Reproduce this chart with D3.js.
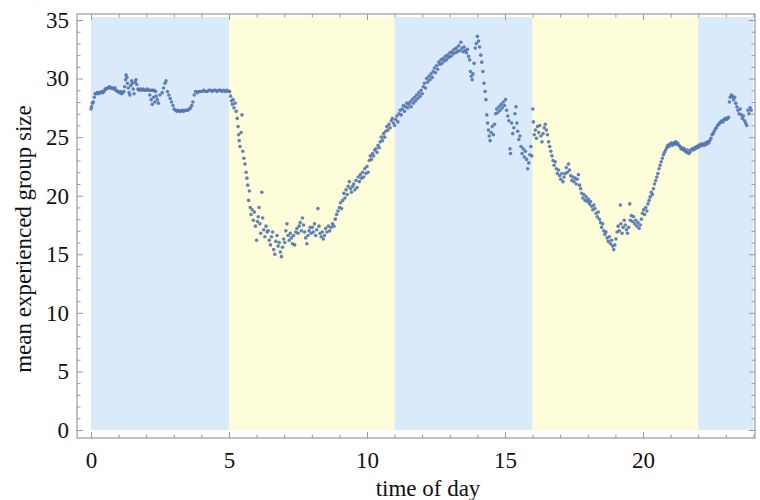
<!DOCTYPE html>
<html lang="en">
<head>
<meta charset="UTF-8">
<title>Mean experienced group size by time of day</title>
<script src="https://d3js.org/d3.v7.min.js"></script>
<style>
    body { margin: 0; background: #fff; }
</style>
</head>
<body>
<svg id="chart" width="760" height="500"></svg>
<script>
// shaded periods of the day (hours)
var shadeStart = [0, 5, 11, 16, 22];
var shadeEnd = [5, 11, 16, 22, 24];
var shadeKind = ["night", "day", "night", "day", "night"];

var xMajorTicks = [0, 5, 10, 15, 20];
var yMajorTicks = [0, 5, 10, 15, 20, 25, 30, 35];

// [hour, mean experienced group size]
var points0to5 = [
    [0.00,27.4],[0.02,27.6],[0.05,27.9],[0.08,28.0],[0.12,28.4],[0.15,28.7],[0.19,28.7],[0.23,28.8],[0.27,28.7],[0.31,28.8],
    [0.35,28.8],[0.39,28.9],[0.43,28.8],[0.47,28.9],[0.51,29.1],[0.55,29.1],[0.59,29.2],[0.63,29.2],[0.67,29.3],[0.71,29.2],
    [0.75,29.2],[0.79,29.2],[0.83,29.1],[0.87,29.2],[0.91,29.0],[0.95,28.9],[0.99,28.9],[1.03,28.8],[1.07,28.9],[1.11,28.7],
    [1.15,28.8],[1.19,28.9],[1.22,29.3],[1.25,29.9],[1.27,30.3],[1.30,30.1],[1.32,29.6],[1.35,29.2],[1.38,28.8],[1.41,28.6],
    [1.44,29.4],[1.47,29.8],[1.50,29.6],[1.53,29.1],[1.56,28.7],[1.60,29.7],[1.63,29.9],[1.66,29.5],[1.70,29.1],[1.74,29.0],
    [1.79,29.1],[1.84,29.0],[1.89,29.1],[1.94,29.0],[1.99,29.0],[2.04,29.1],[2.09,29.0],[2.14,29.0],[2.19,29.0],[2.24,29.0],
    [2.29,29.0],[2.34,28.9],[2.13,28.6],[2.18,28.2],[2.22,27.8],[2.27,28.4],[2.31,28.0],[2.36,28.5],[2.40,28.2],[2.44,27.9],
    [2.50,28.6],[2.58,28.8],[2.63,29.2],[2.68,29.6],[2.72,29.8],[2.77,28.9],[2.82,28.6],[2.87,28.3],[2.92,28.0],[2.97,27.7],
    [3.01,27.4],[3.06,27.3],[3.11,27.2],[3.16,27.3],[3.21,27.2],[3.26,27.2],[3.31,27.3],[3.36,27.2],[3.41,27.3],[3.46,27.3],
    [3.51,27.3],[3.56,27.4],[3.61,27.5],[3.65,27.7],[3.69,28.0],[3.74,28.6],[3.79,28.9],[3.85,28.8],[3.91,28.9],[3.97,28.9],
    [4.03,28.9],[4.09,29.0],[4.15,28.9],[4.21,28.9],[4.27,29.0],[4.33,29.0],[4.39,28.9],[4.45,29.0],[4.51,29.0],[4.57,28.9],
    [4.63,29.0],[4.69,29.0],[4.75,28.9],[4.81,29.0],[4.87,28.9],[4.93,29.0],[4.99,28.9]
];

var points5to11 = [
    [5.02,28.9],[5.06,28.5],[5.09,28.1],[5.12,27.8],[5.15,28.2],[5.18,27.5],[5.22,27.9],[5.26,27.2],[5.30,26.6],[5.33,25.9],
    [5.35,25.2],[5.37,24.7],[5.40,24.2],[5.44,25.4],[5.47,26.9],[5.50,23.8],[5.54,23.2],[5.58,22.7],[5.62,22.0],[5.65,21.5],
    [5.68,20.9],[5.71,19.6],[5.74,20.4],[5.77,19.0],[5.80,18.4],[5.84,18.8],[5.88,17.9],[5.92,18.6],[5.96,17.4],[6.00,16.2],
    [6.03,17.8],[6.06,18.2],[6.09,19.0],[6.12,17.6],[6.15,16.8],[6.19,20.3],[6.22,18.1],[6.26,17.1],[6.30,16.5],[6.34,17.4],
    [6.38,16.9],[6.42,17.0],[6.46,16.2],[6.50,15.8],[6.54,16.5],[6.58,16.9],[6.62,15.4],[6.66,15.0],[6.70,16.1],[6.74,16.6],
    [6.78,15.7],[6.82,16.0],[6.86,15.2],[6.90,14.8],[6.94,15.6],[6.98,16.3],[7.02,16.0],[7.06,17.0],[7.10,17.6],[7.14,16.6],
    [7.18,16.2],[7.22,16.8],[7.26,16.4],[7.30,15.9],[7.34,16.6],[7.38,15.8],[7.42,16.9],[7.46,17.2],[7.50,16.8],[7.54,17.4],
    [7.58,17.7],[7.62,17.0],[7.66,18.1],[7.70,17.5],[7.74,16.9],[7.78,16.4],[7.82,15.9],[7.86,16.6],[7.90,17.0],[7.94,17.3],
    [7.98,16.8],[8.02,17.3],[8.06,16.9],[8.10,17.6],[8.14,16.6],[8.18,17.1],[8.22,18.9],[8.26,17.4],[8.30,16.8],[8.34,16.5],
    [8.38,16.9],[8.42,16.3],[8.46,16.6],[8.50,17.2],[8.55,16.9],[8.60,17.4],[8.65,17.0],[8.70,17.3],[8.75,17.6],[8.80,17.4],
    [8.85,18.0],[8.90,18.4],[8.95,18.7],[9.00,19.0],[9.04,19.4],[9.08,18.9],[9.12,19.6],[9.16,20.2],[9.20,19.8],[9.24,20.5],
    [9.28,20.1],[9.32,20.8],[9.36,21.2],[9.40,20.6],[9.44,20.3],[9.48,20.8],[9.52,21.0],[9.56,20.5],[9.60,21.3],[9.64,20.7],
    [9.68,21.6],[9.72,21.2],[9.76,21.8],[9.80,21.5],[9.84,22.0],[9.88,21.6],[9.92,22.3],[9.96,21.9],[10.00,22.5],[10.04,22.0],
    [10.08,23.0],[10.12,23.4],[10.16,23.1],[10.20,23.6],[10.24,23.4],[10.28,23.9],[10.32,24.0],[10.36,23.7],[10.40,24.3],[10.44,24.1],
    [10.48,24.6],[10.52,25.0],[10.56,24.7],[10.60,25.3],[10.64,25.0],[10.68,25.5],[10.72,25.9],[10.76,25.6],[10.80,26.1],[10.84,25.8],
    [10.88,26.4],[10.92,26.6],[10.96,26.2]
];

var points11to16 = [
    [11.00,26.0],[11.04,26.5],[11.08,26.8],[11.12,26.3],[11.16,27.0],[11.20,27.3],[11.24,26.9],[11.28,27.4],[11.32,27.7],[11.36,27.2],
    [11.40,27.6],[11.44,27.9],[11.48,27.5],[11.52,27.8],[11.56,28.0],[11.60,27.6],[11.64,28.2],[11.68,27.9],[11.72,28.4],[11.76,28.1],
    [11.80,28.6],[11.84,28.3],[11.88,28.8],[11.92,28.5],[11.96,29.0],[12.00,28.7],[12.04,29.3],[12.08,29.6],[12.12,29.2],[12.16,30.0],
    [12.20,29.7],[12.24,30.2],[12.28,29.9],[12.32,30.4],[12.36,30.1],[12.40,30.6],[12.44,30.9],[12.48,30.5],[12.52,31.1],[12.56,30.8],
    [12.60,31.4],[12.64,31.2],[12.68,31.6],[12.72,31.3],[12.76,31.7],[12.80,31.5],[12.84,31.9],[12.88,31.6],[12.92,32.0],[12.96,31.8],
    [13.00,32.2],[13.04,31.9],[13.08,32.3],[13.12,32.1],[13.16,32.5],[13.20,32.2],[13.24,32.6],[13.28,32.3],[13.32,32.8],[13.36,32.4],
    [13.40,33.1],[13.44,32.6],[13.48,32.3],[13.52,32.7],[13.56,32.4],[13.60,32.2],[13.64,32.5],[13.68,31.9],[13.72,31.6],[13.75,30.6],
    [13.78,30.2],[13.81,29.9],[13.84,30.4],[13.88,31.3],[13.92,32.6],[13.96,33.0],[14.00,33.6],[14.04,33.2],[14.08,32.7],[14.12,32.0],
    [14.16,31.4],[14.20,30.6],[14.24,29.6],[14.28,28.9],[14.31,28.2],[14.34,26.9],[14.37,26.2],[14.40,25.6],[14.43,25.1],[14.46,24.7],
    [14.50,25.4],[14.54,25.9],[14.58,25.2],[14.62,26.1],[14.66,27.0],[14.70,27.4],[14.74,27.1],[14.78,27.6],[14.82,27.3],[14.86,27.8],
    [14.90,27.5],[14.94,28.0],[14.98,27.7],[15.02,28.2],[15.06,27.3],[15.10,26.8],[15.14,26.4],[15.18,24.0],[15.20,23.6],[15.24,26.2],
    [15.28,25.3],[15.32,25.8],[15.36,27.0],[15.40,27.6],[15.43,26.2],[15.46,25.5],[15.50,24.8],[15.54,25.1],[15.58,24.2],[15.62,23.6],
    [15.66,24.0],[15.70,23.3],[15.74,23.8],[15.78,23.1],[15.82,22.3],[15.86,22.8],[15.90,23.5],[15.94,24.2],[15.97,23.4]
];

var points16to22 = [
    [16.01,27.4],[16.03,26.3],[16.06,25.2],[16.10,25.6],[16.14,24.9],[16.18,25.9],[16.22,25.4],[16.26,26.0],[16.30,25.1],[16.34,24.6],
    [16.38,25.3],[16.42,25.8],[16.46,26.1],[16.50,25.6],[16.54,25.2],[16.58,24.6],[16.62,24.2],[16.66,23.8],[16.70,23.4],[16.74,23.0],
    [16.78,22.6],[16.82,22.9],[16.86,22.3],[16.90,21.9],[16.94,22.2],[16.98,21.7],[17.02,21.4],[17.06,21.9],[17.10,21.2],[17.14,21.6],
    [17.18,21.9],[17.22,22.4],[17.26,22.0],[17.30,22.7],[17.34,22.2],[17.38,21.7],[17.42,21.3],[17.46,21.6],[17.50,21.2],[17.54,21.5],
    [17.58,21.0],[17.62,21.4],[17.66,21.8],[17.70,20.9],[17.74,20.6],[17.78,20.2],[17.82,19.8],[17.86,20.1],[17.90,19.6],[17.94,19.9],
    [17.98,19.5],[18.02,19.7],[18.06,19.3],[18.10,19.5],[18.14,19.1],[18.18,18.8],[18.22,19.2],[18.26,18.9],[18.30,18.5],[18.34,18.2],
    [18.38,18.6],[18.42,18.0],[18.46,17.7],[18.50,17.3],[18.54,17.6],[18.58,17.0],[18.62,16.7],[18.66,16.9],[18.70,16.4],[18.74,16.1],
    [18.78,16.5],[18.82,15.9],[18.86,16.2],[18.90,15.7],[18.94,15.4],[18.98,15.8],[19.02,16.3],[19.06,16.9],[19.10,17.4],[19.14,17.0],
    [19.18,19.2],[19.20,17.6],[19.24,16.8],[19.28,17.3],[19.32,17.9],[19.36,17.5],[19.40,17.1],[19.44,16.8],[19.48,17.3],[19.52,19.3],
    [19.54,17.9],[19.58,18.3],[19.62,17.8],[19.66,18.2],[19.70,17.6],[19.74,17.9],[19.78,17.4],[19.82,17.7],[19.86,17.2],[19.90,17.5],
    [19.94,18.0],[19.98,18.5],[20.02,18.8],[20.06,18.4],[20.10,19.0],[20.14,18.7],[20.18,19.3],[20.22,19.6],[20.26,19.9],[20.30,20.3],
    [20.34,20.1],[20.38,20.6],[20.42,21.0],[20.46,21.3],[20.50,21.6],[20.54,21.9],[20.58,22.3],[20.62,22.6],[20.66,22.9],[20.70,23.2],
    [20.74,23.5],[20.78,23.7],[20.82,23.9],[20.86,24.1],[20.90,24.3],[20.94,24.2],[20.98,24.4],[21.02,24.5],[21.06,24.3],[21.10,24.5],
    [21.14,24.4],[21.18,24.6],[21.22,24.4],[21.26,24.5],[21.30,24.3],[21.34,24.2],[21.38,24.0],[21.42,24.1],[21.46,23.9],[21.50,24.0],
    [21.54,23.8],[21.58,23.7],[21.62,23.9],[21.66,23.6],[21.70,23.7],[21.74,23.9],[21.78,24.0],[21.82,23.9],[21.86,24.1],[21.90,24.0],
    [21.94,24.2],[21.98,24.1]
];

var points22to24 = [
    [22.02,24.3],[22.06,24.2],[22.10,24.4],[22.14,24.3],[22.18,24.4],[22.22,24.3],[22.26,24.5],[22.30,24.4],[22.34,24.6],[22.38,24.5],
    [22.42,24.7],[22.46,24.9],[22.50,25.2],[22.54,25.3],[22.58,25.5],[22.62,25.7],[22.66,25.8],[22.70,26.0],[22.74,26.1],[22.78,26.2],
    [22.82,26.3],[22.86,26.4],[22.90,26.3],[22.94,26.5],[22.98,26.6],[23.02,26.5],[23.06,26.6],[23.10,26.7],[23.13,28.0],[23.16,28.4],
    [23.20,28.6],[23.24,28.5],[23.28,28.2],[23.32,28.4],[23.36,27.9],[23.40,27.6],[23.44,27.3],[23.48,27.0],[23.52,27.4],[23.56,26.9],
    [23.60,26.6],[23.64,26.8],[23.68,26.4],[23.72,26.2],[23.76,26.0],[23.80,27.3],[23.84,27.0],[23.88,27.5],[23.92,27.3]
];

var serif = '"Liberation Serif", "Times New Roman", Times, serif';

var svg = d3.select("#chart");

var frame = { left: 77, right: 755, top: 14, bottom: 438 };

var x = d3.scaleLinear().domain([0, 24]).range([91, 753.4]);
var y = d3.scaleLinear().domain([0, 35]).range([430, 20]);

var shadeColor = { night: "#dbeafb", day: "#fefdd9" };

// shaded day / night bands
svg.append("g").selectAll("rect")
    .data(d3.range(shadeStart.length))
    .enter().append("rect")
    .attr("x", function (i) { return x(shadeStart[i]); })
    .attr("width", function (i) { return x(shadeEnd[i]) - x(shadeStart[i]); })
    .attr("y", y(35.25))
    .attr("height", y(0) - y(35.25))
    .attr("fill", function (i) { return shadeColor[shadeKind[i]]; });

// points
var allPoints = points0to5.concat(points5to11, points11to16, points16to22, points22to24);
svg.append("g").selectAll("circle")
    .data(allPoints)
    .enter().append("circle")
    .attr("cx", function (d) { return x(d[0]); })
    .attr("cy", function (d) { return y(d[1]); })
    .attr("r", 1.8)
    .attr("fill", "#5274b2")
    .attr("fill-opacity", 0.9);

// frame
svg.append("rect")
    .attr("x", frame.left)
    .attr("y", frame.top)
    .attr("width", frame.right - frame.left)
    .attr("height", frame.bottom - frame.top)
    .attr("fill", "none")
    .attr("stroke", "#a8a8a8")
    .attr("stroke-width", 1.4);

var yMinor = d3.range(0, 36).filter(function (v) { return v % 5 !== 0; });
var xMinor = d3.range(0, 25).filter(function (v) { return v % 5 !== 0; });

function addAxis(axis, tx, ty, labels) {
    var g = svg.append("g")
        .attr("transform", "translate(" + tx + "," + ty + ")")
        .call(axis);
    g.select(".domain").remove();
    g.selectAll(".tick line").attr("stroke", "#9a9a9a");
    if (!labels) {
        g.selectAll("text").remove();
    } else {
        g.attr("font-family", serif).attr("font-size", 23);
        g.selectAll("text").attr("fill", "#111");
    }
    return g;
}

// left axis
addAxis(d3.axisLeft(y).tickValues(yMajorTicks).tickSize(-6).tickPadding(8), frame.left, 0, true);
addAxis(d3.axisLeft(y).tickValues(yMinor).tickSize(-3.5), frame.left, 0, false);
// right frame ticks
addAxis(d3.axisRight(y).tickValues(yMajorTicks).tickSize(-6), frame.right, 0, false);
addAxis(d3.axisRight(y).tickValues(yMinor).tickSize(-3.5), frame.right, 0, false);
// bottom axis
addAxis(d3.axisBottom(x).tickValues(xMajorTicks).tickSize(-6).tickPadding(14), 0, frame.bottom, true);
addAxis(d3.axisBottom(x).tickValues(xMinor).tickSize(-3.5), 0, frame.bottom, false);
// top frame ticks
addAxis(d3.axisTop(x).tickValues(xMajorTicks).tickSize(-6), 0, frame.top, false);
addAxis(d3.axisTop(x).tickValues(xMinor).tickSize(-3.5), 0, frame.top, false);

// axis titles
svg.append("text")
    .attr("transform", "translate(31,239) rotate(-90)")
    .attr("text-anchor", "middle")
    .attr("font-family", serif)
    .attr("font-size", 23)
    .attr("fill", "#111")
    .text("mean experienced group size");

svg.append("text")
    .attr("x", 428)
    .attr("y", 496)
    .attr("text-anchor", "middle")
    .attr("font-family", serif)
    .attr("font-size", 23)
    .attr("fill", "#111")
    .text("time of day");
</script>
</body>
</html>
